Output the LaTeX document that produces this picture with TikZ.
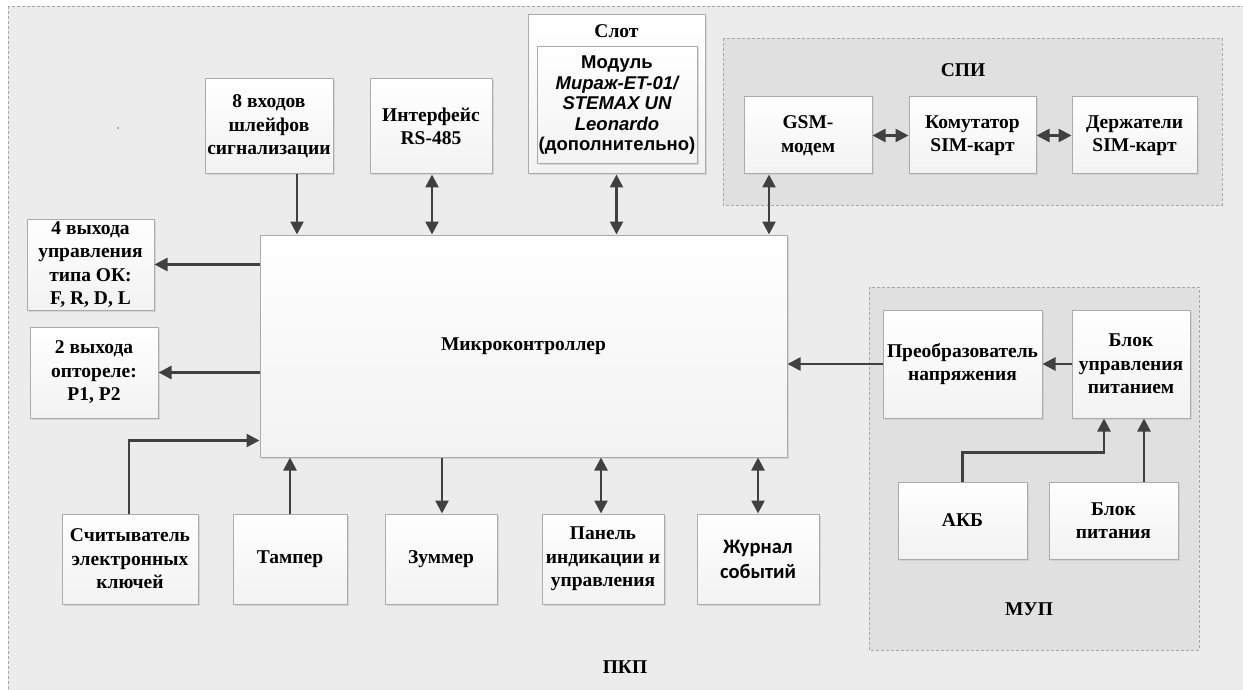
\documentclass[tikz,border=0pt]{standalone}
\usepackage{fontspec}
\setmainfont{Liberation Serif}
\newfontfamily\arialf{Liberation Sans}
\newfontfamily\calib{Carlito}
\usetikzlibrary{arrows.meta,shadows,calc}
\definecolor{pkpbg}{HTML}{ECECEC}
\definecolor{grpbg}{HTML}{E0E0E0}
\definecolor{arrc}{HTML}{404040}
\definecolor{boxline}{HTML}{ABABAB}
\tikzset{
  box/.style={draw=boxline, line width=1pt, top color=white, bottom color=black!5,
    drop shadow={shadow xshift=1.5pt, shadow yshift=-1.5pt, fill=black!22, opacity=0.6},
    align=center, inner sep=0pt, font=\fontsize{19.5}{23.5}\selectfont\bfseries},
  grp/.style={draw=black!35, densely dashed, line width=0.7pt, fill=grpbg},
  arr/.style={draw=arrc, line width=2.6pt, -{Triangle[length=13pt,width=13pt]}},
  darr/.style={draw=arrc, line width=2.6pt, {Triangle[length=13pt,width=13pt]}-{Triangle[length=13pt,width=13pt]}},
  lbl/.style={font=\fontsize{19.5}{23.5}\selectfont\bfseries}
}
\begin{document}
\begin{tikzpicture}[x=1pt,y=-1pt]
\useasboundingbox (0,0) rectangle (1243,690);
\fill[white] (0,0) rectangle (1243,690);
% outer PKP frame
\begin{scope}
\clip (0,0) rectangle (1243,690);
\draw[densely dashed, draw=black!35, line width=0.7pt, fill=pkpbg] (8,6) rectangle (1260,710);
\end{scope}
\fill[black!60] (118,128) circle (0.8pt);
% groups
\draw[grp] (723,38) rectangle (1222,205);
\node[lbl] (spil) at (963,70) {СПИ};
\draw[grp] (869,287) rectangle (1199,650);
\node[lbl] (mupl) at (1029,609) {МУП};
\node[lbl] (pkpl) at (625,667) {ПКП};
% top boxes
\node[box, minimum width=128, minimum height=95] (in8) at (269,126.5) {8 входов\\шлейфов\\сигнализации};
\node[box, minimum width=122, minimum height=95] (rs) at (431,126.5) {Интерфейс\\RS-485};
\node[box, minimum width=177, minimum height=159] (slot) at (616.5,94.5) {};
\node[lbl] (slotl) at (616.5,31) {Слот};
\node[box, drop shadow={opacity=0}, minimum width=160, minimum height=117,
  font=\arialf\fontsize{18.5}{20.5}\selectfont\bfseries] (mod) at (617,105.5)
  {Модуль\\\itshape Мираж-ET-01/\\\itshape STEMAX UN\\\itshape Leonardo\\(дополнительно)};
\node[box, minimum width=128, minimum height=77] (gsm) at (808,135.5) {GSM-\\модем};
\node[box, minimum width=127, minimum height=77] (kom) at (972.5,135.5) {Комутатор\\SIM-карт};
\node[box, minimum width=125, minimum height=77] (der) at (1134.5,135.5) {Держатели\\SIM-карт};
% MCU
\node[box, minimum width=527, minimum height=222] (mcu) at (523.5,346) {Микроконтроллер};
% left
\node[box, minimum width=127, minimum height=91] (out4) at (90.5,264.5) {4 выхода\\управления\\типа ОК:\\F, R, D, L};
\node[box, minimum width=128, minimum height=91] (out2) at (94,372.5) {2 выхода\\оптореле:\\Р1, Р2};
% bottom
\node[box, minimum width=136, minimum height=90] (rdr) at (130,559) {Считыватель\\электронных\\ключей};
\node[box, minimum width=114, minimum height=90] (tmp) at (290,559) {Тампер};
\node[box, minimum width=112, minimum height=90] (zum) at (441,559) {Зуммер};
\node[box, minimum width=122, minimum height=90] (pan) at (603,559) {Панель\\индикации и\\управления};
\node[box, minimum width=122, minimum height=90, font=\calib\fontsize{20.5}{25}\selectfont\bfseries] (jrn) at (758,559) {Журнал\\событий};
% MUP
\node[box, minimum width=159, minimum height=108] (prb) at (962.5,364) {Преобразователь\\напряжения};
\node[box, minimum width=118, minimum height=108] (bup) at (1131,364) {Блок\\управления\\питанием};
\node[box, minimum width=129, minimum height=77] (akb) at (962.5,520.5) {АКБ};
\node[box, minimum width=129, minimum height=77] (bp) at (1113.5,520.5) {Блок\\питания};
% connectors
\draw[arr] ([xshift=28pt]in8.south) -- ([xshift=28pt]in8.south |- mcu.north);
\draw[darr] ([xshift=1pt]rs.south) -- ([xshift=1pt]rs.south |- mcu.north);
\draw[darr] (slot.south) -- (slot.south |- mcu.north);
\draw[darr] ([xshift=-39pt]gsm.south) -- ([xshift=-39pt]gsm.south |- mcu.north);
\draw[darr] (gsm.east) -- (kom.west);
\draw[darr] (kom.east) -- (der.west);
\draw[arr] (mcu.west |- out4.east) -- (out4.east);
\draw[arr] (mcu.west |- out2.east) -- (out2.east);
\draw[arr] ([xshift=-1pt]rdr.north) |- ($(mcu.south west)+(0,-17)$);
\draw[arr] (tmp.north) -- (tmp.north |- mcu.south);
\draw[arr] ([xshift=1pt]mcu.south -| zum.north) -- ([xshift=1pt]zum.north);
\draw[darr] ([xshift=-2pt]pan.north) -- ([xshift=-2pt]pan.north |- mcu.south);
\draw[darr] (jrn.north) -- (jrn.north |- mcu.south);
\draw[arr] (prb.west) -- (prb.west -| mcu.east);
\draw[arr] (bup.west) -- (prb.east);
\draw[arr] (akb.north) -- ++(0,-29) -| ([xshift=-27pt]bup.south);
\draw[arr] ([xshift=30.5pt]akb.north -| bp.north) -- ([xshift=30.5pt]bp.north |- bup.south);
\end{tikzpicture}
\end{document}
